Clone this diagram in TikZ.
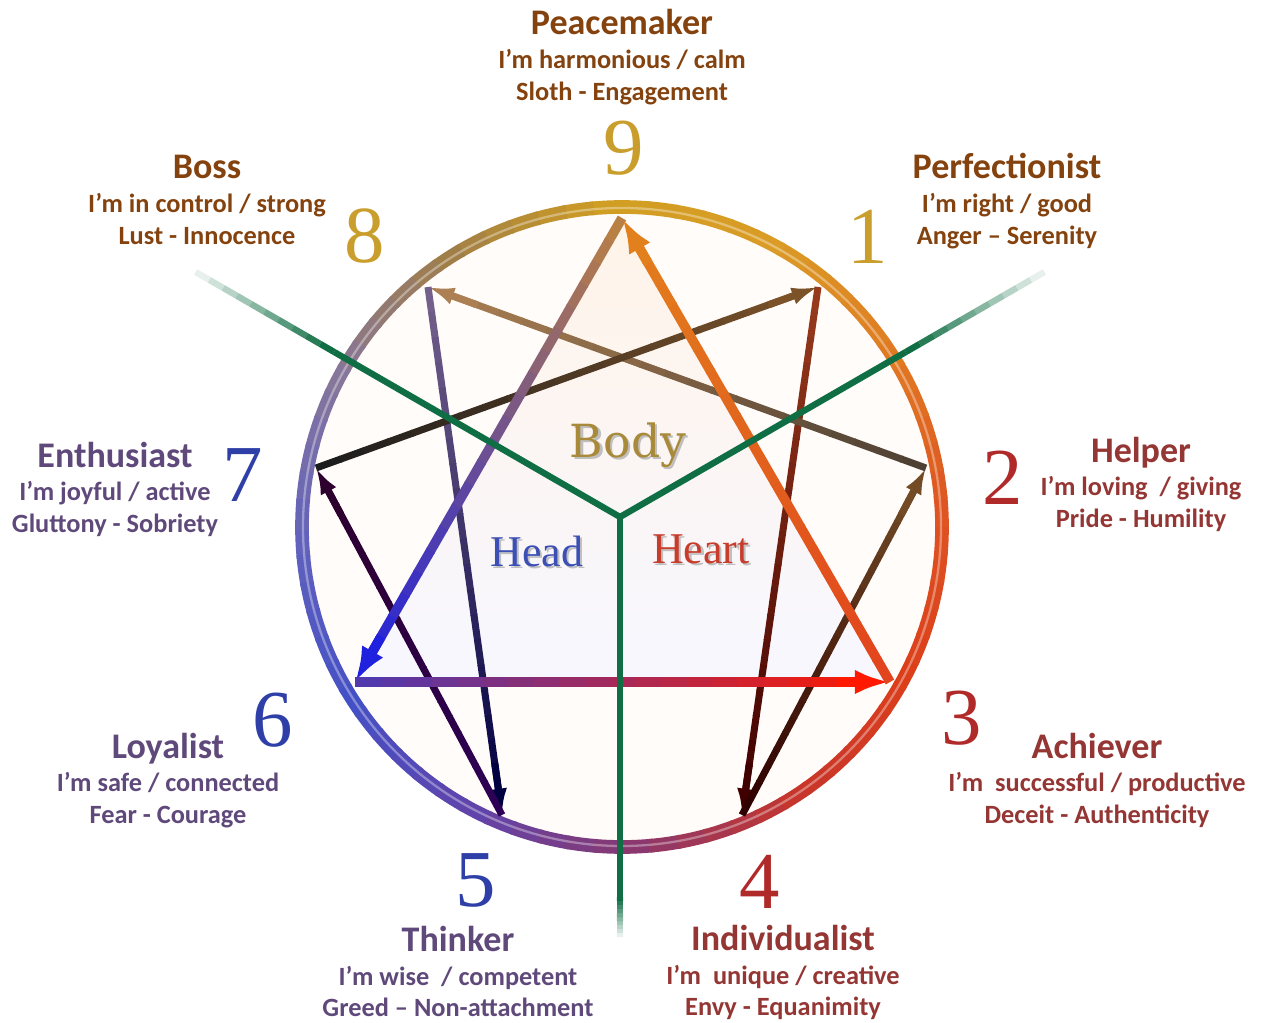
\documentclass[tikz,border=0pt]{standalone}
\usepackage{fontspec}
\setmainfont{Carlito}
\newfontfamily\digitfont{Liberation Serif}
\newfontfamily\bodyfont{DejaVu Serif}
\newfontfamily\headfont{Liberation Serif}
\usetikzlibrary{arrows.meta,calc}

\definecolor{gutbrown}{HTML}{84420E}
\definecolor{heartred}{HTML}{943634}
\definecolor{headpurple}{HTML}{5F497A}
\definecolor{gutgreen}{HTML}{0F6E44}
\definecolor{numgold}{HTML}{C99E2C}
\definecolor{numred}{HTML}{B02A2A}
\definecolor{numblue}{HTML}{2F3FA8}
\definecolor{bodygold}{HTML}{A88A3A}
\definecolor{headblue}{HTML}{3B4FB4}
\definecolor{heartorange}{HTML}{C83C2C}
% ring colours, every 30 degrees from 180 round to 180
\definecolor{ringA}{HTML}{6262BC}
\definecolor{ringB}{HTML}{4450C6}
\definecolor{ringC}{HTML}{6044AA}
\definecolor{ringD}{HTML}{8A386E}
\definecolor{ringE}{HTML}{C6362C}
\definecolor{ringF}{HTML}{DC3E1A}
\definecolor{ringG}{HTML}{DE5422}
\definecolor{ringH}{HTML}{E07A22}
\definecolor{ringI}{HTML}{DA9C26}
\definecolor{ringJ}{HTML}{D09E22}
\definecolor{ringK}{HTML}{A07E48}
\definecolor{ringL}{HTML}{86769A}

% arrow with a colour running from #3 to #4
\newcommand\gradarrow[6]{%
  \coordinate (ga-end) at ($(#2)!14pt!(#1)$);
  \foreach \i in {0,...,19}{%
    \pgfmathsetmacro\ta{\i/20}%
    \pgfmathsetmacro\tb{(\i+1.05)/20}%
    \pgfmathtruncatemacro\mixp{100-\i*5}%
    \draw[line width=#5, color=#3!\mixp!#4] ($(#1)!\ta!(ga-end)$) -- ($(#1)!\tb!(ga-end)$);
  }%
  \draw[line width=#5, color=#4, #6] ($(#2)!30pt!(#1)$) -- (#2);
}
% one 30 degree piece of the ring
\newcommand\ringarc[3]{%
  \foreach \j in {0,...,5}{%
    \pgfmathtruncatemacro\mixp{100-\j*100/6}%
    \draw[ring, color=#2!\mixp!#3] ($(C)+({#1+\j*5}:320)$) arc[start angle={#1+\j*5}, delta angle=5.6, radius=320];
  }}
% green line that fades out
\newcommand\fadeline[2]{%
  \foreach \i in {0,...,9}{%
    \pgfmathsetmacro\ta{\i/10}\pgfmathsetmacro\tb{(\i+1)/10}\pgfmathsetmacro\op{1-\i/10}%
    \draw[gutline, draw opacity=\op] ($(#1)!\ta!(#2)$) -- ($(#1)!\tb!(#2)$);
  }}

\begin{document}
\begin{tikzpicture}[
    x=0.02cm, y=0.02cm,
    title/.style={anchor=base, inner sep=0pt, font=\fontsize{20.5pt}{24pt}\selectfont\bfseries},
    sub/.style={anchor=base, inner sep=0pt, font=\fontsize{15pt}{18pt}\selectfont\bfseries},
    num/.style={inner sep=0pt, font=\digitfont\fontsize{46pt}{50pt}\selectfont},
    centre/.style={inner sep=0pt, font=\headfont\fontsize{25pt}{28pt}\selectfont},
    ring/.style={line width=7.8pt, line cap=butt},
    gutline/.style={gutgreen, line width=3.6pt, line cap=butt},
    smallhead/.style={-{Latex[length=15pt,width=10pt]}},
    bighead/.style={-{Latex[length=20pt,width=14pt]}}
]
\useasboundingbox (0,0) rectangle (1261,-1023);

\coordinate (C) at (622,-527);
\coordinate (J) at (620,-517);
% points of the figure
\coordinate (p9) at (622,-218);
\coordinate (p1) at (818,-287);
\coordinate (p2) at (926,-468);
\coordinate (p3) at (890,-682);
\coordinate (p4) at (742,-815);
\coordinate (p5) at (502,-815);
\coordinate (p6) at (355,-682);
\coordinate (p7) at (316,-468);
\coordinate (p8) at (428,-287);

% background
\fill[white!98!orange] (C) circle[radius=316];
\shade[top color=orange!9!white, bottom color=blue!3!white] (p9) -- (p3) -- (p6) -- cycle;

% ring
\ringarc{-180}{ringA}{ringB}
\ringarc{-150}{ringB}{ringC}
\ringarc{-120}{ringC}{ringD}
\ringarc{-90}{ringD}{ringE}
\ringarc{-60}{ringE}{ringF}
\ringarc{-30}{ringF}{ringG}
\ringarc{0}{ringG}{ringH}
\ringarc{30}{ringH}{ringI}
\ringarc{60}{ringI}{ringJ}
\ringarc{90}{ringJ}{ringK}
\ringarc{120}{ringK}{ringL}
\ringarc{150}{ringL}{ringA}
\draw[white, opacity=.35, line width=1.3pt] (C) circle[radius=319];

% hexad
\gradarrow{p1}{p4}{brown!60!black}{black!75!red}{4pt}{smallhead}
\gradarrow{p4}{p2}{black!70!red}{brown!60!black}{4pt}{smallhead}
\gradarrow{p2}{p8}{black!70!brown}{brown!70!gray}{4pt}{smallhead}
\gradarrow{p8}{p5}{gray!60!brown}{black!75!blue}{4pt}{smallhead}
\gradarrow{p5}{p7}{black!75!blue}{black!65!violet}{4pt}{smallhead}
\gradarrow{p7}{p1}{black!65!gray}{brown!65!black}{4pt}{smallhead}

% triangle
\gradarrow{p9}{p6}{brown!80!orange}{blue!75!gray}{5.5pt}{bighead}
\gradarrow{p6}{p3}{blue!70!gray}{red!80!orange}{5.5pt}{bighead}
\gradarrow{p3}{p9}{red!85!orange}{orange!55!brown}{5.5pt}{bighead}

% centres
\coordinate (gl1) at ($(J)+(150:330)$);
\coordinate (gl2) at ($(J)+(150:490)$);
\coordinate (gr1) at ($(J)+(30:330)$);
\coordinate (gr2) at ($(J)+(30:490)$);
\coordinate (gb1) at ($(J)+(270:380)$);
\coordinate (gb2) at ($(J)+(270:420)$);
\draw[gutline] (gl1) -- (J) -- (gr1);
\draw[gutline] (J) -- (gb1);
\fadeline{gl1}{gl2}
\fadeline{gr1}{gr2}
\fadeline{gb1}{gb2}

\node[centre, font=\bodyfont\fontsize{26pt}{28pt}\selectfont, text=gray!50, xshift=1.2pt, yshift=-1.2pt] (bodysh) at (628,-445) {Body};
\node[centre, font=\bodyfont\fontsize{26pt}{28pt}\selectfont, text=bodygold] (body) at (628,-445) {Body};
\node[centre, text=gray!50, xshift=1.2pt, yshift=-1.2pt] (headsh) at (537,-551) {Head};
\node[centre, text=headblue] (head) at (537,-551) {Head};
\node[centre, text=gray!50, xshift=1.2pt, yshift=-1.2pt] (heartsh) at (701,-549) {Heart};
\node[centre, text=heartorange] (heart) at (701,-549) {Heart};

% numbers
\node[num, text=numgold] (n9) at (624,-148) {9};
\node[num, text=numgold] (n8) at (365,-236) {8};
\node[num, text=numgold] (n1) at (868,-237) {1};
\node[num, text=numred] (n2) at (1003,-478) {2};
\node[num, text=numred] (n3) at (962,-718) {3};
\node[num, text=numred] (n4) at (760,-882) {4};
\node[num, text=numblue] (n5) at (476,-880) {5};
\node[num, text=numblue] (n6) at (273,-720) {6};
\node[num, text=numblue] (n7) at (243,-475) {7};

% labels
\node[title, text=gutbrown] (t9) at (622,-35) {Peacemaker};
\node[sub, text=gutbrown] (s9a) at (622,-69) {I’m harmonious / calm};
\node[sub, text=gutbrown] (s9b) at (622,-101) {Sloth - Engagement};

\node[title, text=gutbrown] (t8) at (207,-179) {Boss};
\node[sub, text=gutbrown] (s8a) at (207,-213) {I’m in control / strong};
\node[sub, text=gutbrown] (s8b) at (207,-245) {Lust - Innocence};

\node[title, text=gutbrown] (t1) at (1007,-179) {Perfectionist};
\node[sub, text=gutbrown] (s1a) at (1007,-213) {I’m right / good};
\node[sub, text=gutbrown] (s1b) at (1007,-245) {Anger – Serenity};

\node[title, text=heartred] (t2) at (1141,-463) {Helper};
\node[sub, text=heartred] (s2a) at (1141,-496) {I’m loving~ / giving};
\node[sub, text=heartred] (s2b) at (1141,-528) {Pride - Humility};

\node[title, text=heartred] (t3) at (1097,-758) {Achiever};
\node[sub, text=heartred] (s3a) at (1097,-791) {I’m~ successful / productive};
\node[sub, text=heartred] (s3b) at (1097,-823) {Deceit - Authenticity};

\node[title, text=heartred] (t4) at (783,-950) {Individualist};
\node[sub, text=heartred] (s4a) at (783,-984) {I’m~ unique / creative};
\node[sub, text=heartred] (s4b) at (783,-1015) {Envy - Equanimity};

\node[title, text=headpurple] (t5) at (458,-951) {Thinker};
\node[sub, text=headpurple] (s5a) at (458,-985) {I’m wise~ / competent};
\node[sub, text=headpurple] (s5b) at (458,-1016) {Greed – Non-attachment};

\node[title, text=headpurple] (t6) at (168,-758) {Loyalist};
\node[sub, text=headpurple] (s6a) at (168,-791) {I’m safe / connected};
\node[sub, text=headpurple] (s6b) at (168,-823) {Fear - Courage};

\node[title, text=headpurple] (t7) at (115,-468) {Enthusiast};
\node[sub, text=headpurple] (s7a) at (115,-501) {I’m joyful / active};
\node[sub, text=headpurple] (s7b) at (115,-533) {Gluttony - Sobriety};
\end{tikzpicture}
\end{document}
